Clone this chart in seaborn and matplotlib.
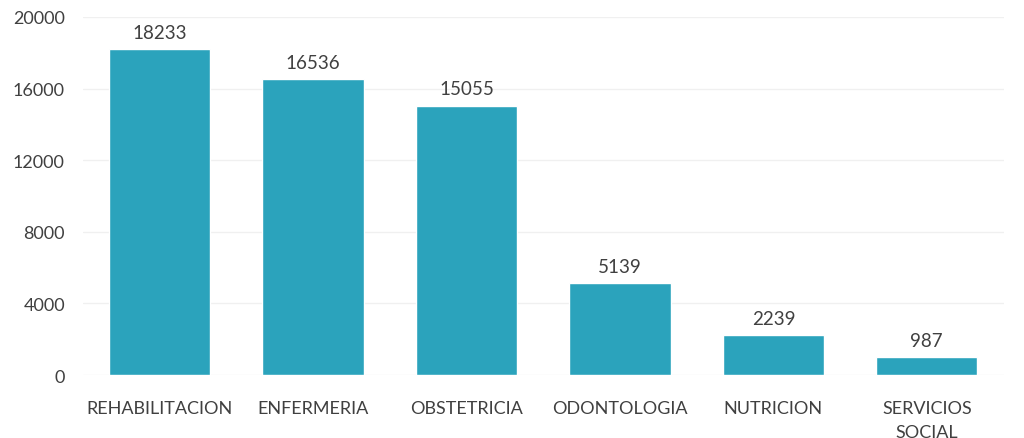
import matplotlib
matplotlib.use("Agg")
import matplotlib.pyplot as plt
import seaborn as sns
import pandas as pd

# Data
categories = ["REHABILITACION", "ENFERMERIA", "OBSTETRICIA", "ODONTOLOGIA", "NUTRICION", "SERVICIOS\nSOCIAL"]
values = [18233, 16536, 15055, 5139, 2239, 987]
yticks = [0, 4000, 8000, 12000, 16000, 20000]

sns.set_theme(style="white")
plt.rcParams['font.family'] = ['Lato', 'DejaVu Sans']

df = pd.DataFrame({'area': categories, 'total': values})

fig = plt.figure(figsize=(10.24, 4.39), dpi=100)
ax = fig.add_axes([0.081, 0.1435, 0.899, 0.8155])

sns.barplot(data=df, x='area', y='total', color='#2BA3BC', saturation=1, width=0.66, ax=ax)

for i, v in enumerate(values):
    ax.text(i, v + 450, str(v), ha='center', va='bottom', fontsize=13.5, color='#404040')

ax.set_ylim(0, 20000)
ax.set_yticks(yticks)
ax.set_yticklabels([str(t) for t in yticks], fontsize=13, color='#404040')
ax.tick_params(axis='x', labelsize=13, colors='#404040', length=0, pad=18)
ax.tick_params(axis='y', length=0, pad=13)
for lbl in ax.get_xticklabels():
    lbl.set_linespacing(1.6)
ax.set_xlabel('')
ax.set_ylabel('')
ax.yaxis.grid(True, color='#f0f0f0', linewidth=1)
ax.set_axisbelow(True)
for s in ax.spines.values():
    s.set_visible(False)

plt.savefig('out.png', dpi=100)
plt.close()
